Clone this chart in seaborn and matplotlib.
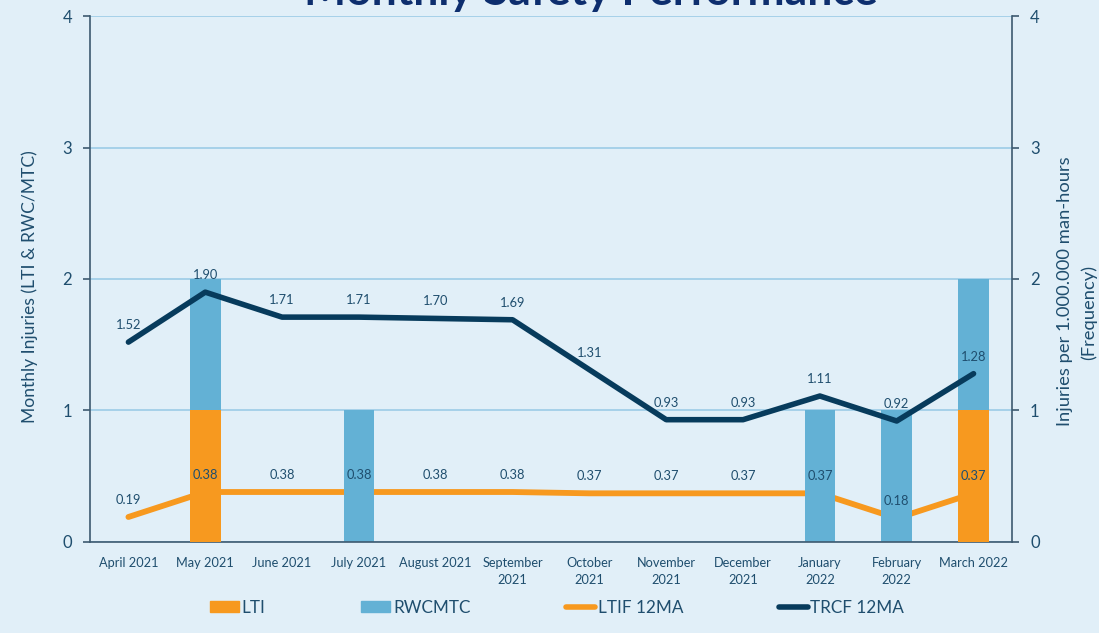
import numpy as np
import pandas as pd
import matplotlib.pyplot as plt
import seaborn as sns
from matplotlib.patches import Patch
from matplotlib.lines import Line2D

sns.set_style('white')
plt.rcParams['font.family'] = ['Lato', 'DejaVu Sans']

months = ['April 2021', 'May 2021', 'June 2021', 'July 2021', 'August 2021',
          'September\n2021', 'October\n2021', 'November\n2021', 'December\n2021',
          'January\n2022', 'February\n2022', 'March 2022']
lti = [0, 1, 0, 0, 0, 0, 0, 0, 0, 0, 0, 1]
rwcmtc = [0, 1, 0, 1, 0, 0, 0, 0, 0, 1, 1, 1]
ltif_12ma = [0.19, 0.38, 0.38, 0.38, 0.38, 0.38, 0.37, 0.37, 0.37, 0.37, 0.18, 0.37]
trcf_12ma = [1.52, 1.90, 1.71, 1.71, 1.70, 1.69, 1.31, 0.93, 0.93, 1.11, 0.92, 1.28]

bg = '#e1eff8'
orange = '#f7991f'
blue = '#63b1d5'
navy = '#073b5c'
text_c = '#1f4e6e'
spine_c = '#3d5a70'

df = pd.DataFrame({'month': months, 'LTI': lti, 'RWCMTC': rwcmtc,
                   'LTIF': ltif_12ma, 'TRCF': trcf_12ma})
df['total'] = df['LTI'] + df['RWCMTC']
df['x'] = np.arange(len(df))

fig = plt.figure(figsize=(10.99, 6.33), dpi=100, facecolor=bg)
ax = fig.add_axes([0.0819, 0.1438, 0.8389, 0.8309])
ax.set_facecolor(bg)
ax2 = ax.twinx()

# orange line sits behind the bars, navy one in front
ax.plot(df['x'], df['LTIF'], color=orange, lw=4.2, solid_capstyle='round', zorder=1)
sns.barplot(data=df, x='month', y='total', color=blue, width=0.4, saturation=1,
            edgecolor='none', linewidth=0, ax=ax, zorder=2)
sns.barplot(data=df, x='month', y='LTI', color=orange, width=0.4, saturation=1,
            edgecolor='none', linewidth=0, ax=ax, zorder=3)
sns.lineplot(data=df, x='x', y='TRCF', color=navy, lw=4, ax=ax, zorder=4)
ax.lines[-1].set_solid_capstyle('round')

for i, row in df.iterrows():
    ax.annotate(f"{row['TRCF']:.2f}", (row['x'], row['TRCF']), xytext=(0, 8),
                textcoords='offset points', ha='center', va='bottom',
                fontsize=9.3, color=text_c, zorder=5)
    ax.annotate(f"{row['LTIF']:.2f}", (row['x'], row['LTIF']), xytext=(0, 8),
                textcoords='offset points', ha='center', va='bottom',
                fontsize=9.3, color=text_c, zorder=5)

for a in (ax, ax2):
    a.set_ylim(0, 4)
    a.set_yticks([0, 1, 2, 3, 4])
    a.tick_params(axis='y', colors=text_c, labelsize=12, length=5, width=1.2, pad=8)
    for s in a.spines.values():
        s.set_visible(False)
for a, side in ((ax, 'left'), (ax2, 'right'), (ax, 'bottom')):
    a.spines[side].set_visible(True)
    a.spines[side].set_color(spine_c)
    a.spines[side].set_linewidth(1.2)
ax.tick_params(axis='y', color=spine_c)
ax2.tick_params(axis='y', color=spine_c)

ax.set_xlim(-0.5, 11.5)
ax.set_xticks(df['x'])
ax.set_xticklabels(months, fontsize=9.2, color=text_c, linespacing=1.45)
ax.tick_params(axis='x', length=0, pad=11)
ax.set_xticks(np.arange(-0.5, 12, 1), minor=True)
ax.tick_params(axis='x', which='minor', length=5, width=1.2, color=spine_c)

ax.yaxis.grid(True, color='#9ccbe6', lw=1.2, zorder=0)
ax.set_axisbelow(True)
ax.set_xlabel('')
ax.set_ylabel('')
ax2.set_ylabel('')

fig.text(30 / 1099, 1 - 287 / 633, 'Monthly Injuries (LTI & RWC/MTC)', rotation=90,
         ha='center', va='center', fontsize=12.6, color=text_c)
fig.text(1065 / 1099, 1 - 291 / 633, 'Injuries per 1.000.000 man-hours', rotation=90,
         ha='center', va='center', fontsize=13.2, color=text_c)
fig.text(1089 / 1099, 1 - 312 / 633, '(Frequency)', rotation=90,
         ha='center', va='center', fontsize=13.2, color=text_c)

fig.text(0.538, 0.992, 'Monthly Safety Performance', ha='center', va='baseline',
         fontsize=32, fontweight='bold', color='#0d2e6e')

handles = [Patch(color=orange), Patch(color=blue),
           Line2D([], [], color=orange, lw=4, solid_capstyle='round'),
           Line2D([], [], color=navy, lw=4, solid_capstyle='round')]
fig.legend(handles, ['LTI', 'RWCMTC', 'LTIF 12MA', 'TRCF 12MA'], ncol=4,
           loc='center', bbox_to_anchor=(0.507, 0.04), frameon=False,
           fontsize=12.3, labelcolor=text_c, handlelength=1.7, handleheight=0.6,
           handletextpad=0.15, columnspacing=5.6)

plt.savefig('out.png', dpi=100, facecolor=bg)
